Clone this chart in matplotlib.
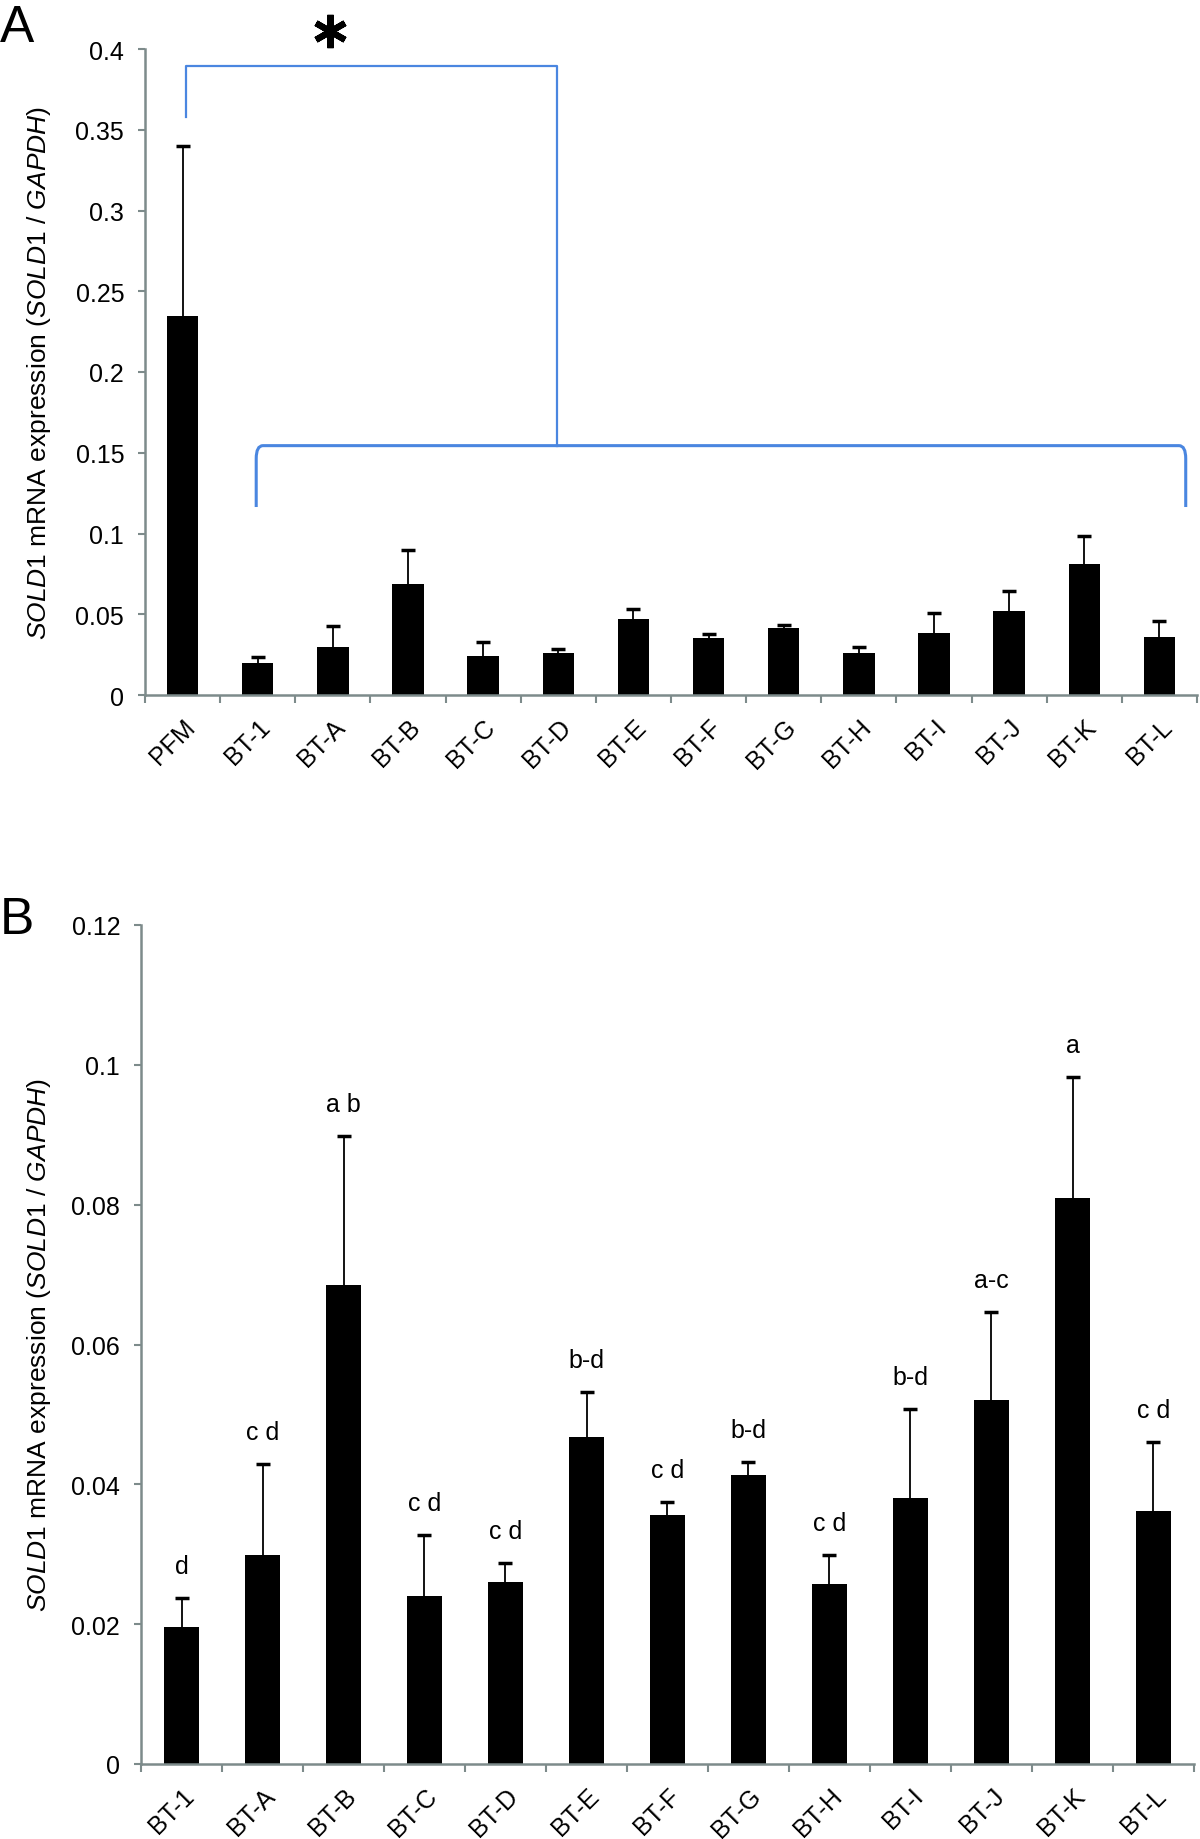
import numpy as np
import matplotlib
matplotlib.use("Agg")
import matplotlib.pyplot as plt
from matplotlib.path import Path
from matplotlib.patches import PathPatch

plt.rcParams['font.family'] = ['Liberation Sans', 'DejaVu Sans']
plt.rcParams['mathtext.fontset'] = 'custom'
plt.rcParams['mathtext.rm'] = 'Liberation Sans'
plt.rcParams['mathtext.it'] = 'Liberation Sans:italic'

# ---------------- data ----------------
bt_lines = ['BT-1', 'BT-A', 'BT-B', 'BT-C', 'BT-D', 'BT-E', 'BT-F',
            'BT-G', 'BT-H', 'BT-I', 'BT-J', 'BT-K', 'BT-L']
bt_means = [0.0196, 0.0299, 0.0685, 0.0240, 0.0261, 0.0468, 0.0356,
            0.0414, 0.0257, 0.0381, 0.0520, 0.0810, 0.0362]
bt_errs = [0.0041, 0.0130, 0.0213, 0.0087, 0.0026, 0.0064, 0.0019,
           0.0018, 0.0042, 0.0127, 0.0127, 0.0173, 0.0098]
pfm_label = 'PFM'
pfm_mean = 0.2345
pfm_err = 0.1055
letters = ['d', 'c d', 'a b', 'c d', 'c d', 'b-d', 'c d',
           'b-d', 'c d', 'b-d', 'a-c', 'a', 'c d']
yticks_a = [0, 0.05, 0.1, 0.15, 0.2, 0.25, 0.3, 0.35, 0.4]
yticklabels_a = ['0', '0.05', '0.1', '0.15', '0.2', '0.25', '0.3', '0.35', '0.4']
yticks_b = [0, 0.02, 0.04, 0.06, 0.08, 0.1, 0.12]
yticklabels_b = ['0', '0.02', '0.04', '0.06', '0.08', '0.1', '0.12']

# ---------------- style ----------------
SPINE = '#7d8b8b'
BLUE = '#4a86e0'
TICKFS = 18
ylabel = r'$\it{SOLD1}$ mRNA expression ($\it{SOLD1}$ / $\it{GAPDH}$)'

fig = plt.figure(figsize=(12, 18.4), dpi=100)
axA = fig.add_axes([145/1200, 1-696/1840, (1197-145)/1200, (696-50)/1840])
axB = fig.add_axes([141/1200, 1-1765/1840, (1194-141)/1200, (1765-926)/1840])


def style_axes(ax, n, labels, yt, ytl, ymax):
    for s in ['top', 'right']:
        ax.spines[s].set_visible(False)
    for s in ['left', 'bottom']:
        ax.spines[s].set_color(SPINE)
        ax.spines[s].set_linewidth(1.8)
    ax.set_xlim(-0.5, n - 0.5)
    ax.set_ylim(0, ymax)
    ax.set_yticks(yt)
    ax.set_yticklabels(ytl, fontsize=TICKFS)
    ax.tick_params(axis='y', direction='out', length=5, width=1.5,
                   color=SPINE, pad=10)
    ax.set_xticks(np.arange(n + 1) - 0.5)
    ax.set_xticklabels([''] * (n + 1))
    ax.tick_params(axis='x', which='major', direction='out', length=6,
                   width=1.5, color=SPINE)
    ax.set_xticks(np.arange(n), minor=True)
    ax.set_xticklabels(labels, minor=True, fontsize=TICKFS, rotation=45,
                       ha='right', va='top', rotation_mode='anchor')
    ax.tick_params(axis='x', which='minor', length=0, pad=14)


def bars_with_errors(ax, x, means, errs):
    ax.bar(x, means, width=0.42, color='black', zorder=2)
    _, caps, _ = ax.errorbar(x, means, yerr=[np.zeros(len(x)), errs],
                             fmt='none', ecolor='black', elinewidth=1.3,
                             capsize=5, capthick=2.5, zorder=3)
    caps[0].set_visible(False)  # only upper caps


# ---------------- panel A ----------------
cats_a = [pfm_label] + bt_lines
means_a = [pfm_mean] + bt_means
errs_a = [pfm_err] + bt_errs
xa = np.arange(len(cats_a))
bars_with_errors(axA, xa, means_a, errs_a)
style_axes(axA, len(cats_a), cats_a, yticks_a, yticklabels_a, 0.4)

# significance bracket (upper)
axA.plot([0.04, 0.04, 4.98, 4.98], [0.358, 0.3895, 0.3895, 0.1544],
         color=BLUE, lw=1.6, clip_on=False, zorder=4)
# brace over BT lines
x0, x1, yt, yb = 0.98, 13.35, 0.1544, 0.1164
dx, dy = 0.09, 0.008
verts = [(x0, yb), (x0, yt - dy), (x0, yt), (x0 + dx, yt),
         (x1 - dx, yt), (x1, yt), (x1, yt - dy), (x1, yb)]
codes = [Path.MOVETO, Path.LINETO, Path.CURVE3, Path.CURVE3,
         Path.LINETO, Path.CURVE3, Path.CURVE3, Path.LINETO]
axA.add_patch(PathPatch(Path(verts, codes), facecolor='none', edgecolor=BLUE,
                        lw=2.2, clip_on=False, zorder=4))
axA.plot([1.96], [0.4113], marker=(6, 2, 0), ms=24, mew=4.5, color='black',
         clip_on=False, zorder=5)

fig.text(39/1200, 1-373/1840, ylabel, rotation=90, ha='center', va='center',
         fontsize=19)
fig.text(0/1200, 1-4/1840, 'A', fontsize=37, ha='left', va='top')

# ---------------- panel B ----------------
xb = np.arange(len(bt_lines))
bars_with_errors(axB, xb, bt_means, bt_errs)
style_axes(axB, len(bt_lines), bt_lines, yticks_b, yticklabels_b, 0.12)
for xi, m, e, lab in zip(xb, bt_means, bt_errs, letters):
    axB.annotate(lab, (xi, m + e), xytext=(0, 18), textcoords='offset points',
                 ha='center', va='baseline', fontsize=TICKFS)

fig.text(39/1200, 1-1345/1840, ylabel, rotation=90, ha='center', va='center',
         fontsize=19)
fig.text(0/1200, 1-896/1840, 'B', fontsize=37, ha='left', va='top')

fig.savefig('out.png', dpi=100)
